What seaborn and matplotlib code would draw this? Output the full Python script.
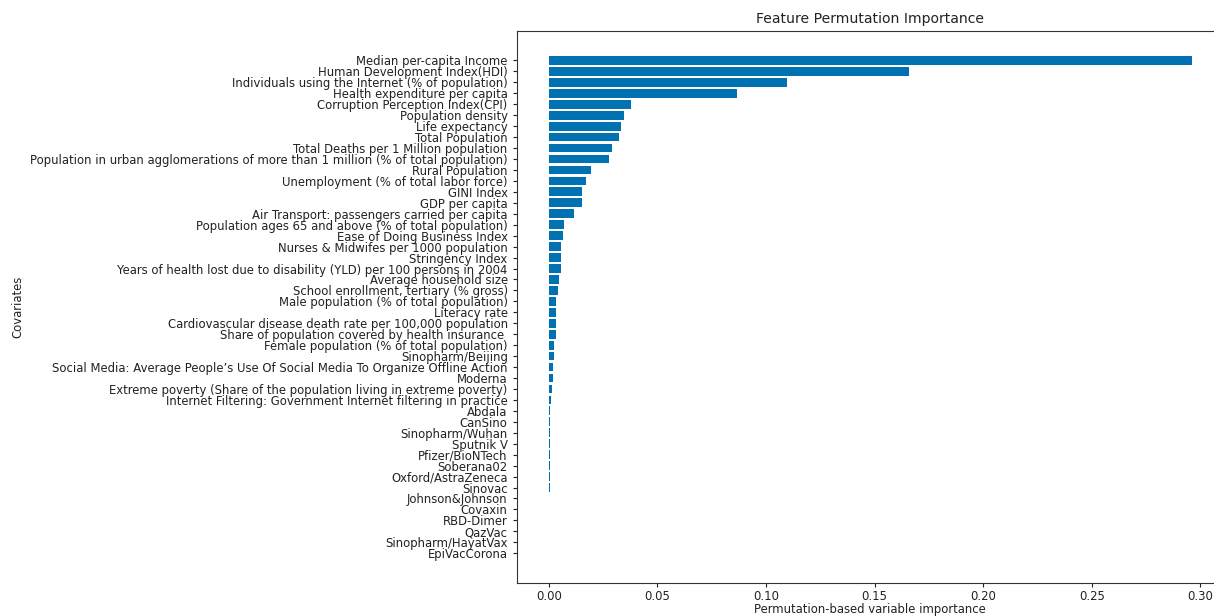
import matplotlib
matplotlib.use("Agg")
import matplotlib.pyplot as plt
import seaborn as sns
import pandas as pd

covariates = [
    "Median per-capita Income",
    "Human Development Index(HDI)",
    "Individuals using the Internet (% of population)",
    "Health expenditure per capita",
    "Corruption Perception Index(CPI)",
    "Population density",
    "Life expectancy",
    "Total Population",
    "Total Deaths per 1 Million population",
    "Population in urban agglomerations of more than 1 million (% of total population)",
    "Rural Population",
    "Unemployment (% of total labor force)",
    "GINI Index",
    "GDP per capita",
    "Air Transport: passengers carried per capita",
    "Population ages 65 and above (% of total population)",
    "Ease of Doing Business Index",
    "Nurses & Midwifes per 1000 population",
    "Stringency Index",
    "Years of health lost due to disability (YLD) per 100 persons in 2004",
    "Average household size",
    "School enrollment, tertiary (% gross)",
    "Male population (% of total population)",
    "Literacy rate",
    "Cardiovascular disease death rate per 100,000 population",
    "Share of population covered by health insurance ",
    "Female population (% of total population)",
    "Sinopharm/Beijing",
    "Social Media: Average People\u2019s Use Of Social Media To Organize Offline Action",
    "Moderna",
    "Extreme poverty (Share of the population living in extreme poverty)",
    "Internet Filtering: Government Internet filtering in practice",
    "Abdala",
    "CanSino",
    "Sinopharm/Wuhan",
    "Sputnik V",
    "Pfizer/BioNTech",
    "Soberana02",
    "Oxford/AstraZeneca",
    "Sinovac",
    "Johnson&Johnson",
    "Covaxin",
    "RBD-Dimer",
    "QazVac",
    "Sinopharm/HayatVax",
    "EpiVacCorona",
]

importance = [
    0.296, 0.1658, 0.1096, 0.0864, 0.0377, 0.0346, 0.0331, 0.0325, 0.0293, 0.0277,
    0.0196, 0.0169, 0.0153, 0.0153, 0.0118, 0.0072, 0.0067, 0.0057, 0.0054, 0.0054,
    0.0049, 0.0040, 0.0034, 0.0034, 0.0034, 0.0031, 0.0026, 0.0026, 0.0019, 0.0019,
    0.0014, 0.0009, 0.0006, 0.0005, 0.0005, 0.0005, 0.0005, 0.0005, 0.0004, 0.0004,
    0.0, 0.0, 0.0, 0.0, 0.0, 0.0,
]

title = "Feature Permutation Importance"
xlabel = "Permutation-based variable importance"
ylabel = "Covariates"

df = pd.DataFrame({"Covariates": covariates, "Importance": importance})

plt.rcParams["font.family"] = ["DejaVu Sans"]
plt.rcParams["font.size"] = 8.4
plt.rcParams["text.color"] = "#222222"
plt.rcParams["axes.labelcolor"] = "#222222"
plt.rcParams["xtick.color"] = "#222222"
plt.rcParams["ytick.color"] = "#222222"

fig = plt.figure(figsize=(12.14, 6.16), dpi=100)
ax = fig.add_axes([0.4256, 0.0541, 0.5826, 0.8956])

sns.barplot(data=df, y="Covariates", x="Importance", orient="h",
            color="#0072B2", saturation=1, width=0.8, ax=ax)

n = len(covariates)
vmax = max(importance)
xm = 0.05 * vmax
ax.set_xlim(-xm, vmax + xm)
ym = 0.05 * (n - 1 + 0.8)
ax.set_ylim(n - 1 + 0.4 + ym, -0.4 - ym)
ax.set_xticks([0.0, 0.05, 0.10, 0.15, 0.20, 0.25, 0.30])
ax.set_xticklabels(["0.00", "0.05", "0.10", "0.15", "0.20", "0.25", "0.30"])

ax.set_title(title)
ax.set_xlabel(xlabel, labelpad=0)
ax.set_ylabel(ylabel)
ax.tick_params(axis="both", length=3)
ax.tick_params(axis="x", pad=2)
for s in ax.spines.values():
    s.set_color("#333333")

fig.savefig("out.png", dpi=100)
